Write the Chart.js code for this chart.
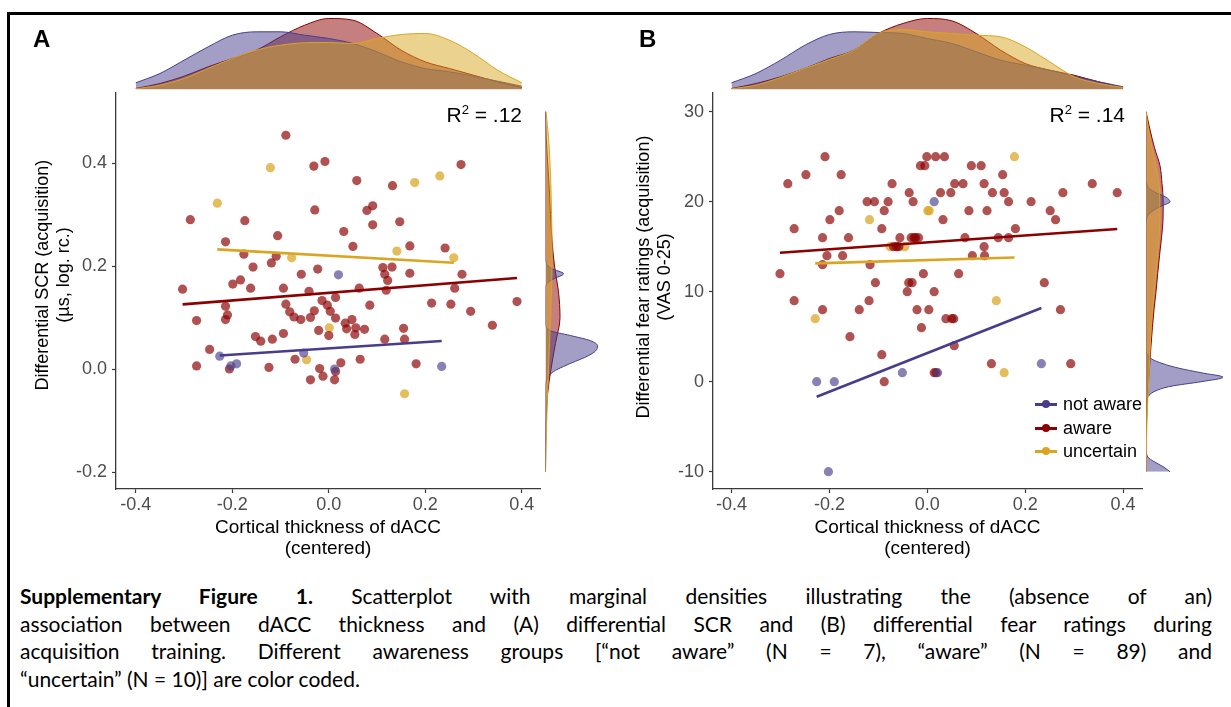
<!DOCTYPE html>
<html><head><meta charset="utf-8"><title>Supplementary Figure 1</title>
<script src="https://cdn.jsdelivr.net/npm/chart.js@4/dist/chart.umd.min.js"></script>
<style>
html,body{margin:0;padding:0;background:#fff;}
#fig{position:relative;width:1231px;height:707px;overflow:hidden;background:#fff;font-family:'Liberation Sans',Arial,Helvetica,sans-serif;color:#000;}
#fig canvas{position:absolute;}
.t{position:absolute;white-space:nowrap;}
.panel{font-weight:bold;font-size:24px;line-height:24px;}
.r2{font-size:21px;line-height:24px;transform:translateX(-100%);}
.r2 .sup{font-size:13px;position:relative;top:-8px;}
.xt{font-size:19px;line-height:21px;text-align:center;transform:translateX(-50%);}
.yt{font-size:18px;line-height:21px;text-align:center;width:340px;height:42px;transform:rotate(-90deg);}
.leg{font-size:18px;line-height:22px;height:22px;}
.key{display:inline-block;position:relative;width:22px;height:22px;vertical-align:top;margin-right:6px;}
.key .l{position:absolute;left:0;top:10px;width:22px;height:2.5px;}
.key .d{position:absolute;left:7px;top:7px;width:8px;height:8px;border-radius:50%;}
.cap{position:absolute;left:20px;top:582px;width:1192px;font-family:Lato,'Open Sans',sans-serif;font-size:21px;line-height:27.7px;color:#000;}
.cap .j{text-align:justify;text-align-last:justify;}
.bar{position:absolute;background:#000;}
</style></head>
<body>
<div id="fig">
  <div class="bar" style="left:7px;top:12px;width:1224px;height:3px;"></div>
  <div class="bar" style="left:7px;top:12px;width:2.5px;height:695px;"></div>

  <canvas id="topA" width="600" height="95" style="left:0;top:0;"></canvas>
  <canvas id="topB" width="631" height="95" style="left:600px;top:0;"></canvas>
  <canvas id="scA" width="600" height="460" style="left:0;top:80px;"></canvas>
  <canvas id="scB" width="631" height="460" style="left:600px;top:80px;"></canvas>
  <canvas id="rtA" width="70" height="460" style="left:540px;top:80px;"></canvas>
  <canvas id="rtB" width="91" height="460" style="left:1140px;top:80px;"></canvas>

  <div class="t panel" style="left:33px;top:27px;">A</div>
  <div class="t panel" style="left:639px;top:27px;">B</div>

  <div class="t r2" style="left:522px;top:103px;">R<span class="sup">2</span> = .12</div>
  <div class="t r2" style="left:1125px;top:103px;">R<span class="sup">2</span> = .14</div>

  <div class="t xt" style="left:328px;top:516px;">Cortical thickness of dACC<br>(centered)</div>
  <div class="t xt" style="left:927.5px;top:516px;">Cortical thickness of dACC<br>(centered)</div>

  <div class="t yt" style="left:-117.5px;top:254px;">Differential SCR (acquisition)<br>(µs, log. rc.)</div>
  <div class="t yt" style="left:484px;top:256px;">Differential fear ratings (acquisition)<br>(VAS 0-25)</div>

  <div id="legend"></div>

  <div class="cap">
    <div class="j"><b>Supplementary Figure 1.</b> Scatterplot with marginal densities illustrating the (absence of an)</div>
    <div class="j">association between dACC thickness and (A) differential SCR and (B) differential fear ratings during</div>
    <div class="j">acquisition training. Different awareness groups [“not aware” (N = 7), “aware” (N = 89) and</div>
    <div>“uncertain” (N = 10)] are color coded.</div>
  </div>
</div>
<script>
// ---------------- DATA ----------------
const groupNames = ['not aware', 'aware', 'uncertain'];
const xTickValues = [-0.4, -0.2, 0.0, 0.2, 0.4];
const yTickValuesA = [-0.2, 0.0, 0.2, 0.4];
const yTickValuesB = [-10, 0, 10, 20, 30];

// Panel A: differential SCR
const A_notAware_x = [0.020, -0.226, -0.203, -0.191, -0.052, 0.012, 0.234];
const A_notAware_y = [0.183, 0.025, 0.006, 0.010, 0.031, 0.000, 0.005];
const A_aware_x = [-0.089,-0.031,-0.008,0.274,0.058,0.132,-0.029,0.079,0.091,-0.287,
  -0.174,0.091,0.147,-0.106,0.031,-0.214,0.050,0.168,0.241,-0.176,
  -0.109,-0.119,-0.157,-0.023,0.112,0.131,-0.057,0.116,0.168,0.276,
  0.122,-0.183,-0.199,-0.303,-0.162,-0.094,0.063,0.119,0.261,-0.041,
  0.014,-0.014,-0.003,-0.089,-0.214,0.213,0.253,0.390,0.085,-0.030,
  0.003,0.294,-0.081,-0.210,-0.072,-0.058,-0.038,0.014,-0.274,-0.214,
  0.048,0.034,-0.021,0.037,0.056,0.074,0.155,0.339,-0.094,0.000,
  0.054,-0.152,-0.141,-0.117,0.116,0.157,-0.247,-0.070,0.065,0.025,
  0.181,-0.274,-0.124,-0.206,-0.019,0.014,-0.012,-0.038,0.012];
const A_aware_y = [0.454,0.394,0.403,0.397,0.366,0.356,0.309,0.308,0.317,0.290,
  0.288,0.280,0.286,0.259,0.267,0.247,0.238,0.239,0.235,0.223,
  0.219,0.206,0.198,0.194,0.197,0.198,0.184,0.184,0.186,0.184,
  0.172,0.173,0.165,0.155,0.157,0.157,0.157,0.153,0.157,0.151,
  0.139,0.133,0.124,0.126,0.122,0.128,0.126,0.131,0.124,0.113,
  0.112,0.112,0.111,0.105,0.101,0.096,0.100,0.099,0.094,0.096,
  0.096,0.089,0.075,0.078,0.080,0.077,0.079,0.085,0.069,0.065,
  0.067,0.063,0.054,0.058,0.058,0.058,0.038,0.019,0.019,0.012,
  0.010,0.006,0.003,0.000,0.001,-0.005,-0.014,-0.021,-0.021];
const A_uncertain_x = [-0.121, -0.231, 0.178, 0.230, 0.141, 0.259, -0.077, 0.001, -0.046, 0.157];
const A_uncertain_y = [0.391, 0.322, 0.362, 0.375, 0.229, 0.216, 0.216, 0.080, 0.018, -0.048];
// fitted regression lines (not aware, aware, uncertain)
const A_fit_intercept = [0.040, 0.148, 0.220];
const A_fit_slope = [0.061, 0.074, -0.053];

// Panel B: differential fear ratings
const B_notAware_x = [0.014, -0.226, -0.190, -0.051, 0.021, 0.233, -0.202];
const B_notAware_y = [20, 0, 0, 1, 1, 2, -10];
const B_aware_x = [-0.209,-0.001,0.017,0.035,-0.248,-0.176,-0.285,-0.014,-0.005,0.090,
  0.110,0.154,-0.072,0.056,0.073,0.116,0.337,-0.037,0.027,0.048,
  0.133,0.157,0.277,0.388,-0.123,-0.108,-0.080,-0.029,0.166,0.212,
  -0.180,-0.088,0.085,0.122,0.251,-0.199,0.032,0.262,-0.272,-0.093,
  0.180,-0.214,-0.161,-0.056,-0.033,-0.024,-0.018,0.077,0.145,0.166,
  -0.069,-0.058,0.116,-0.205,-0.173,0.092,0.117,-0.214,-0.117,-0.301,
  -0.008,0.064,-0.106,-0.038,-0.031,0.239,-0.041,0.014,-0.272,-0.119,
  -0.214,-0.139,-0.021,0.003,0.272,0.038,0.050,0.054,-0.012,-0.158,
  0.055,-0.093,0.131,0.293,0.014,-0.088,-0.027,0.018,-0.063];
const B_aware_y = [25,25,25,25,23,23,22,24,24,24,
  24,23,22,22,22,22,22,21,21,21,
  21,21,21,21,20,20,20,20,20,20,
  19,19,19,19,19,18,18,18,17,17,
  17,16,16,16,16,16,16,16,16,16,
  15,15,15,14,14,14,14,13,13,12,
  12,12,11,11,11,11,10,10,9,9,
  8,8,8,8,8,7,7,7,6,5,
  4,3,2,2,1,0,16,1,15];
const B_uncertain_x = [0.178, 0.001, -0.118, -0.076, -0.046, -0.229, 0.141, 0.157, -0.062, 0.004];
const B_uncertain_y = [25, 19, 18, 15, 15, 7, 9, 1, 15, 19];
const B_fit_intercept = [3.19, 15.48, 13.52];
const B_fit_slope = [21.5, 3.82, 1.63];

// Marginal densities (relative density)
const topX = [-0.40,-0.35,-0.30,-0.25,-0.20,-0.15,-0.10,-0.05,0.00,0.05,0.10,0.15,0.20,0.25,0.30,0.35,0.40];
const topA_notAware = [0.67,1.6,2.93,4.27,5.43,5.77,5.77,5.43,5.1,4.6,3.77,2.77,2.1,1.77,1.33,0.83,0.33];
const topA_aware = [0.1,0.6,1.33,2.27,3.1,3.93,5.27,6.43,7.1,6.93,5.6,3.93,2.77,2.1,1.43,0.77,0.2];
const topA_uncertain = [0.07,0.43,1.1,2.1,3.1,3.93,4.43,4.67,4.7,4.6,5.1,5.5,5.6,4.93,3.6,1.93,0.67];
const topB_notAware = [0.67,1.6,2.93,4.43,5.5,5.77,5.7,5.6,5.1,4.6,3.77,2.93,2.43,1.93,1.33,0.77,0.27];
const topB_aware = [0.1,0.6,1.27,2.1,3.1,3.93,5.6,6.6,7.1,6.87,5.6,3.93,2.6,1.93,1.43,0.77,0.2];
const topB_uncertain = [0.07,0.43,1.2,2.1,3.0,3.93,5.6,6.0,5.77,5.6,5.43,5.27,4.27,2.77,1.27,0.6,0.2];

const rightA_notAware_y = [-0.20,-0.035,-0.025,-0.015,-0.005,0.005,0.015,0.025,0.035,0.045,0.055,0.065,0.075,0.09,0.155,0.165,0.175,0.185,0.195,0.205,0.22,0.50];
const rightA_notAware_d = [0,0,0.05,0.3,0.8,1.8,3.0,4.2,5.0,5.2,4.5,2.5,0.4,0,0,0.1,0.8,1.8,0.6,0.1,0,0];
const rightA_y = [-0.20,-0.15,-0.10,-0.05,0.00,0.05,0.10,0.15,0.20,0.25,0.30,0.35,0.40,0.45,0.50];
const rightA_aware_d = [0,0.02,0.07,0.2,0.55,1.0,1.45,1.3,0.9,0.65,0.5,0.38,0.22,0.07,0];
const rightA_uncertain_d = [0,0.05,0.12,0.2,0.3,0.4,0.5,0.6,0.65,0.65,0.6,0.55,0.45,0.3,0.05];

const rightB_notAware_y = [-10,-9.5,-9,-8.5,-8,-7,-2.5,-2,-1.5,-1,-0.5,0,0.5,1,1.5,2,2.5,3,3.5,17.5,18,18.5,19,19.5,20,20.5,21,21.5,22,22.5,30];
const rightB_notAware_d = [2.4,1.8,1.0,0.3,0.05,0,0,0.05,0.3,1.0,2.5,5.5,7.7,5.5,3.3,1.7,0.6,0.15,0,0,0.05,0.2,0.7,1.5,2.4,2.0,1.0,0.3,0.05,0,0];
const rightB_y = [-10,-8,-6,-4,-2,0,2,4,6,8,10,12,14,16,18,20,22,24,26,28,30];
const rightB_aware_d = [0,0.01,0.03,0.07,0.14,0.24,0.38,0.5,0.64,0.8,1.0,1.17,1.35,1.55,1.7,1.72,1.6,1.4,0.85,0.4,0];
const rightB_uncertain_d = [0,0.03,0.06,0.1,0.18,0.27,0.35,0.42,0.52,0.65,0.82,1.0,1.15,1.3,1.38,1.38,1.3,1.0,0.6,0.25,0];

// ---------------- STYLE ----------------
const FONT = "'Liberation Sans', Arial, sans-serif";
const LINE_COL = ['#483D8B', '#8B0000', '#DAA520'];
const PT_COL = ['rgba(72,61,139,0.65)', 'rgba(139,0,0,0.68)', 'rgba(218,165,32,0.72)'];
const FILL_COL = ['rgba(72,61,139,0.5)', 'rgba(139,0,0,0.5)', 'rgba(218,165,32,0.5)'];
// layer order of the densities (lower = drawn on top): aware bottom, not aware middle, uncertain top
const DENS_ORDER = [1, 2, 0];
const AXIS_COL = '#3a3a3a';
const TICK_TXT = '#4d4d4d';
const XR_A = [-0.441, 0.4377], YR_A = [-0.233, 0.536];
const XR_B = [-0.4378, 0.4386], YR_B = [-11.92, 32.08];

Chart.defaults.font.family = FONT;

const baseOpts = () => ({
  responsive: false, animation: false, events: [], devicePixelRatio: 1,
  plugins: { legend: { display: false }, tooltip: { enabled: false } }
});

function scatterChart(id, groups, fitI, fitS, xr, yr, yTicks, yFmt, yAxisW, xAxisH, pad) {
  const ds = [];
  groups.forEach((g, i) => {
    const lo = Math.min(...g.x), hi = Math.max(...g.x);
    ds.push({ type: 'line', label: groupNames[i] + ' fit',
      data: [{ x: lo, y: fitI[i] + fitS[i] * lo }, { x: hi, y: fitI[i] + fitS[i] * hi }],
      borderColor: LINE_COL[i], borderWidth: 2.6, pointRadius: 0, fill: false, tension: 0, order: 0 });
  });
  groups.forEach((g, i) => {
    ds.push({ type: 'scatter', label: groupNames[i],
      data: g.x.map((v, k) => ({ x: v, y: g.y[k] })),
      backgroundColor: PT_COL[i], borderWidth: 0, borderColor: 'rgba(0,0,0,0)',
      pointRadius: 4.6, pointHoverRadius: 4.6, order: 1 });
  });
  const o = baseOpts();
  o.layout = { padding: pad };
  o.scales = {
    x: { type: 'linear', min: xr[0], max: xr[1],
      afterBuildTicks: s => { s.ticks = xTickValues.map(v => ({ value: v })); },
      afterFit: s => { s.height = xAxisH; s.paddingLeft = 0; s.paddingRight = 0; },
      ticks: { color: TICK_TXT, font: { family: FONT, size: 18 }, padding: 1, maxRotation: 0, autoSkip: false,
        callback: v => Number(v).toFixed(1) },
      grid: { display: true, drawOnChartArea: false, drawTicks: true, tickLength: 4, tickColor: AXIS_COL, tickWidth: 1.2 },
      border: { display: true, color: AXIS_COL, width: 1.3 } },
    y: { type: 'linear', min: yr[0], max: yr[1],
      afterBuildTicks: s => { s.ticks = yTicks.map(v => ({ value: v })); },
      afterFit: s => { s.width = yAxisW; s.paddingTop = 0; s.paddingBottom = 0; },
      ticks: { color: TICK_TXT, font: { family: FONT, size: 18 }, padding: 5, autoSkip: false, callback: yFmt },
      grid: { display: true, drawOnChartArea: false, drawTicks: true, tickLength: 4, tickColor: AXIS_COL, tickWidth: 1.2 },
      border: { display: true, color: AXIS_COL, width: 1.3 } }
  };
  return new Chart(document.getElementById(id), { type: 'scatter', data: { datasets: ds }, options: o });
}

function topDensity(id, xs, series, xr, ymax, pad) {
  const ds = series.map((vals, i) => ({
    label: groupNames[i], data: xs.map((v, k) => ({ x: v, y: vals[k] })),
    borderColor: LINE_COL[i], borderWidth: 1, backgroundColor: FILL_COL[i], fill: 'origin',
    pointRadius: 0, cubicInterpolationMode: 'monotone', order: DENS_ORDER[i] }));
  const o = baseOpts();
  o.layout = { padding: pad };
  o.scales = { x: { type: 'linear', min: xr[0], max: xr[1], display: false },
               y: { type: 'linear', min: 0, max: ymax, display: false } };
  return new Chart(document.getElementById(id), { type: 'line', data: { datasets: ds }, options: o });
}

function rightDensity(id, series, yr, xmax, pad) {
  const ds = series.map((s, i) => ({
    label: groupNames[i], data: s.y.map((v, k) => ({ x: s.d[k], y: v })),
    borderColor: LINE_COL[i], borderWidth: 1, backgroundColor: FILL_COL[i], fill: 'origin',
    pointRadius: 0, cubicInterpolationMode: 'monotone', order: DENS_ORDER[i] }));
  const o = baseOpts();
  o.indexAxis = 'y';
  o.layout = { padding: pad };
  o.scales = { x: { type: 'linear', min: 0, max: xmax, display: false },
               y: { type: 'linear', min: yr[0], max: yr[1], display: false } };
  return new Chart(document.getElementById(id), { type: 'line', data: { datasets: ds }, options: o });
}

// Panel A
scatterChart('scA',
  [{ x: A_notAware_x, y: A_notAware_y }, { x: A_aware_x, y: A_aware_y }, { x: A_uncertain_x, y: A_uncertain_y }],
  A_fit_intercept, A_fit_slope, XR_A, YR_A, yTickValuesA, v => Number(v).toFixed(1),
  116, 51, { left: 0, top: 13, right: 60, bottom: 0 });
topDensity('topA', topX, [topA_notAware, topA_aware, topA_uncertain], XR_A, 7.25,
  { left: 116, right: 60, top: 17, bottom: 5.5 });
rightDensity('rtA', [
  { y: rightA_notAware_y, d: rightA_notAware_d },
  { y: rightA_y, d: rightA_aware_d },
  { y: rightA_y, d: rightA_uncertain_d }], YR_A, 6.0,
  { left: 5.5, right: 4.5, top: 13, bottom: 51 });

// Panel B
scatterChart('scB',
  [{ x: B_notAware_x, y: B_notAware_y }, { x: B_aware_x, y: B_aware_y }, { x: B_uncertain_x, y: B_uncertain_y }],
  B_fit_intercept, B_fit_slope, XR_B, YR_B, yTickValuesB, v => String(v),
  113, 51, { left: 0, top: 13, right: 89, bottom: 0 });
topDensity('topB', topX, [topB_notAware, topB_aware, topB_uncertain], XR_B, 7.25,
  { left: 113, right: 89, top: 17, bottom: 5.5 });
rightDensity('rtB', [
  { y: rightB_notAware_y, d: rightB_notAware_d },
  { y: rightB_y, d: rightB_aware_d },
  { y: rightB_y, d: rightB_uncertain_d }], YR_B, 8.0,
  { left: 6, right: 5, top: 13, bottom: 51 });

// Legend (panel B)
const legTops = [393, 417, 440];
const legEl = document.getElementById('legend');
groupNames.forEach((n, i) => {
  const row = document.createElement('div');
  row.className = 't leg';
  row.style.left = '1035px';
  row.style.top = legTops[i] + 'px';
  row.innerHTML = '<span class="key"><i class="l" style="background:' + LINE_COL[i] + '"></i><i class="d" style="background:' + LINE_COL[i] + '"></i></span>' + n;
  legEl.appendChild(row);
});
</script>
</body></html>
